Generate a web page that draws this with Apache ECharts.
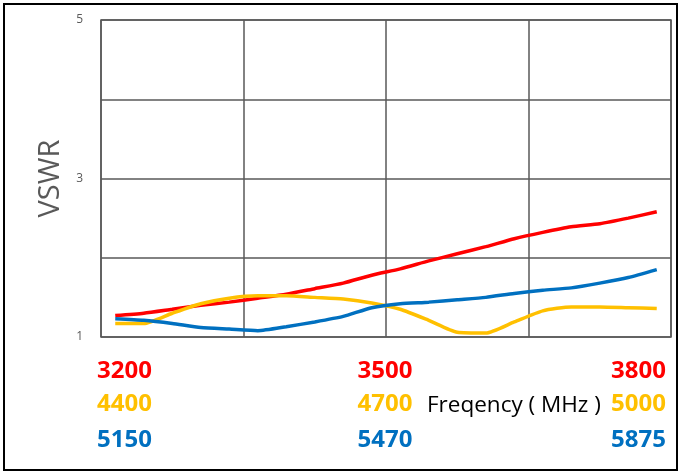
<!DOCTYPE html>
<html>
<head>
<meta charset="utf-8">
<script src="https://cdn.jsdelivr.net/npm/echarts@6/dist/echarts.min.js"></script>
<style>html,body{margin:0;padding:0;background:#fff;}#c{width:681px;height:473px;}</style>
</head>
<body>
<div id="c"></div>
<script>
// Sample index along the sweep (20 equally spaced measurement points)
const categories = ['1','2','3','4','5','6','7','8','9','10','11','12','13','14','15','16','17','18','19','20'];
// VSWR values
const redBand    = [1.27,1.30,1.35,1.40,1.44,1.49,1.54,1.61,1.68,1.78,1.86,1.96,2.05,2.14,2.24,2.32,2.39,2.43,2.50,2.58];
const yellowBand = [1.17,1.17,1.30,1.42,1.49,1.52,1.52,1.50,1.48,1.43,1.35,1.21,1.06,1.05,1.19,1.33,1.38,1.38,1.37,1.36];
const blueBand   = [1.23,1.21,1.17,1.12,1.10,1.08,1.13,1.19,1.26,1.37,1.42,1.44,1.47,1.50,1.55,1.59,1.62,1.68,1.75,1.85];
// Frequency tick labels (MHz) per band: start, middle, end
const redTicks    = ['3200','3500','3800'];
const yellowTicks = ['4400','4700','5000'];
const blueTicks   = ['5150','5470','5875'];
const yTickLabels = ['1','3','5'];
const xTitle = 'Freqency ( MHz )';
const yTitle = 'VSWR';

const RED = '#FF0000', YEL = '#FFC000', BLU = '#0070C0';
const chart = echarts.init(document.getElementById('c'), null, {renderer: 'canvas'});

const rows = [
  {ticks: redTicks, color: RED, y: 371},
  {ticks: yellowTicks, color: YEL, y: 404},
  {ticks: blueTicks, color: BLU, y: 440}
];
const graphics = [{
  type: 'rect', shape: {x: 4, y: 4, width: 673, height: 466},
  style: {fill: null, stroke: '#000', lineWidth: 2}, z: 10
}];
rows.forEach(r => {
  const font = 'bold 24px "Open Sans"';
  graphics.push({type: 'text', x: 97, y: r.y, style: {text: r.ticks[0], fill: r.color, font: font, align: 'left', verticalAlign: 'middle'}});
  graphics.push({type: 'text', x: 385, y: r.y, style: {text: r.ticks[1], fill: r.color, font: font, align: 'center', verticalAlign: 'middle'}});
  graphics.push({type: 'text', x: 666, y: r.y, style: {text: r.ticks[2], fill: r.color, font: font, align: 'right', verticalAlign: 'middle'}});
});
graphics.push({type: 'text', x: 427, y: 406, style: {text: xTitle, fill: '#000', font: '22.5px "Open Sans"', align: 'left', verticalAlign: 'middle'}});

chart.setOption({
  animation: false,
  backgroundColor: '#fff',
  grid: {left: 101, top: 20, right: 10, bottom: 136, show: true, borderColor: '#595959', borderWidth: 1.5, containLabel: false},
  xAxis: {
    type: 'category', data: categories, boundaryGap: true,
    axisLine: {show: false}, axisTick: {show: false}, axisLabel: {show: false},
    splitLine: {show: true, interval: 4, lineStyle: {color: '#595959', width: 1.5}}
  },
  yAxis: {
    type: 'value', min: 1, max: 5, interval: 1,
    name: yTitle, nameLocation: 'middle', nameGap: 36, nameRotate: 90,
    nameTextStyle: {color: '#595959', fontSize: 29, fontFamily: 'Open Sans'},
    axisLine: {show: false}, axisTick: {show: false},
    axisLabel: {color: '#595959', fontSize: 12, fontFamily: 'Open Sans', margin: 18,
      formatter: v => yTickLabels.indexOf(String(v)) >= 0 ? String(v) : ''},
    splitLine: {show: true, lineStyle: {color: '#595959', width: 1.5}}
  },
  series: [
    {type: 'line', data: redBand, symbol: 'none', smooth: 0.2, lineStyle: {color: RED, width: 3.5}, z: 2},
    {type: 'line', data: yellowBand, symbol: 'none', smooth: 0.2, lineStyle: {color: YEL, width: 3.5}, z: 3},
    {type: 'line', data: blueBand, symbol: 'none', smooth: 0.2, lineStyle: {color: BLU, width: 3.5}, z: 4}
  ],
  graphic: graphics
});
</script>
</body>
</html>
